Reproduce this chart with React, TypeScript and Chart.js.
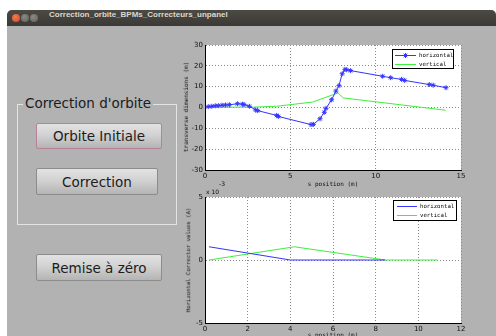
import React, { useEffect, useRef } from "react";
import { Chart, registerables } from "chart.js";

Chart.register(...registerables);

// ---------- texts ----------
const WINDOW_TITLE = "Correction_orbite_BPMs_Correcteurs_unpanel";
const PANEL_TITLE = "Correction d'orbite";
const BUTTON_LABELS = ["Orbite Initiale", "Correction", "Remise à zéro"];
const SERIES_LABELS = ["horizontal", "vertical"];
const X_TITLE = "s position (m)";
const Y_TITLE_ORBIT = "transverse dimensions (m)";
const Y_TITLE_CORR = "Horizontal Corrector values (A)";

// ---------- top plot: orbit ----------
const orbitHS = [0.19, 0.4, 0.6, 0.78, 1.0, 1.2, 1.43, 1.9, 2.19, 2.29, 2.6, 2.97, 3.09, 4.2, 4.3, 6.21, 6.35, 6.74, 6.99, 7.09, 7.42, 7.67, 7.85, 8.04, 8.2, 8.3, 8.53, 10.41, 10.88, 11.52, 11.7, 13.14, 13.37, 14.12];
const orbitHV = [0.4, 0.6, 0.8, 0.9, 1.1, 1.2, 1.3, 1.8, 1.6, 1.4, 0.6, -1.2, -1.5, -3.8, -4.3, -8.2, -8.1, -5.4, -2.3, -0.4, 3.7, 7.9, 10.5, 16.2, 18.3, 18.1, 17.7, 15.0, 14.3, 13.5, 13.0, 11.0, 10.7, 9.5];
const orbitVS = [0.19, 2.9, 4.2, 6.3, 7.8, 8.1, 14.1];
const orbitVV = [0.1, 0.2, 0.6, 2.6, 7.0, 4.6, -1.3];
const orbitXTicks = [0, 5, 10, 15];
const orbitYTicks = [-30, -20, -10, 0, 10, 20, 30];

// ---------- bottom plot: correctors (A) ----------
const corrHS = [0.19, 4.0, 8.45];
const corrHV = [0.00105, 0, 0];
const corrVS = [0.19, 4.19, 8.45, 10.9];
const corrVV = [0, 0.00105, 0, 0];
const corrXTicks = [0, 2, 4, 6, 8, 10, 12];
const corrYTicks = [-0.005, 0, 0.005];

const BLUE = "#3434ff";
const GREEN = "#3ef03e";
const MONO = "'DejaVu Sans Mono', monospace";
const SANS = "'DejaVu Sans', sans-serif";

const chartBg = {
  id: "chartBg",
  beforeDraw(chart: any) {
    const { ctx, chartArea } = chart;
    ctx.save();
    ctx.fillStyle = "#ffffff";
    ctx.fillRect(chartArea.left, chartArea.top, chartArea.right - chartArea.left, chartArea.bottom - chartArea.top);
    ctx.restore();
  },
};

const boxLegend = {
  id: "boxLegend",
  afterDraw(chart: any, _a: any, opts: any) {
    const { ctx, chartArea } = chart;
    const w = opts.width, h = opts.height;
    const x = Math.round(chartArea.right - opts.right - w);
    const y = Math.round(chartArea.top + opts.top);
    ctx.save();
    ctx.fillStyle = "#fff";
    ctx.fillRect(x, y, w, h);
    ctx.strokeStyle = "#000";
    ctx.lineWidth = 1;
    ctx.strokeRect(x + 0.5, y + 0.5, w - 1, h - 1);
    ctx.font = `5.7px ${MONO}`;
    ctx.textBaseline = "middle";
    chart.data.datasets.forEach((ds: any, i: number) => {
      const ry = Math.round(y + opts.rows[i]) + 0.5;
      ctx.strokeStyle = ds.borderColor;
      ctx.beginPath();
      ctx.moveTo(x + opts.lx0, ry);
      ctx.lineTo(x + opts.lx1, ry);
      ctx.stroke();
      if (ds.pointRadius > 0) {
        const cx = x + (opts.lx0 + opts.lx1) / 2;
        const r = ds.pointRadius;
        ctx.beginPath();
        for (let k = 0; k < 4; k++) {
          const a = (k * Math.PI) / 4;
          ctx.moveTo(cx - r * Math.cos(a), ry - r * Math.sin(a));
          ctx.lineTo(cx + r * Math.cos(a), ry + r * Math.sin(a));
        }
        ctx.stroke();
      }
      ctx.fillStyle = "#000";
      ctx.fillText(ds.label, x + opts.tx, ry);
    });
    ctx.restore();
  },
};

function axis(min: number, max: number, ticks: number[], fit: (s: any) => void, fmt: (v: number) => string) {
  return {
    type: "linear",
    min,
    max,
    afterBuildTicks: (s: any) => {
      s.ticks = ticks.map((v) => ({ value: v }));
    },
    afterFit: fit,
    grid: { color: "#8a8a8a", lineWidth: 1, drawTicks: false },
    border: { display: true, color: "#000", width: 1, dash: [1, 2] },
    ticks: {
      autoSkip: false,
      maxRotation: 0,
      padding: 2,
      color: "#111",
      font: { family: SANS, size: 7 },
      callback: (v: any) => fmt(Number(v)),
    },
  };
}

function PlotCanvas(props: {
  left: number; top: number; width: number; height: number;
  datasets: any[]; x: any; y: any; legend: any; padRight: number; padTop: number;
}) {
  const ref = useRef<HTMLCanvasElement | null>(null);
  useEffect(() => {
    if (!ref.current) return;
    const chart = new Chart(ref.current, {
      type: "line",
      data: { datasets: props.datasets },
      options: {
        animation: false,
        responsive: false,
        devicePixelRatio: 1,
        parsing: false as any,
        layout: { padding: { left: 0, top: props.padTop, right: props.padRight, bottom: 0 } },
        plugins: { legend: { display: false }, tooltip: { enabled: false }, boxLegend: props.legend } as any,
        scales: { x: props.x, y: props.y } as any,
      },
      plugins: [chartBg, boxLegend],
    } as any);
    return () => chart.destroy();
  }, []);
  return (
    <canvas
      ref={ref}
      width={props.width}
      height={props.height}
      style={{ position: "absolute", left: props.left, top: props.top, width: props.width, height: props.height }}
    />
  );
}

const pts = (xs: number[], ys: number[]) => xs.map((x, i) => ({ x, y: ys[i] }));

function Button({ label, left, top, width, height, focus }: any) {
  return (
    <div
      style={{
        position: "absolute", left, top, width, height, boxSizing: "border-box",
        border: `1px solid ${focus ? "#b9809a" : "#8c8c8c"}`, borderRadius: 2,
        background: "linear-gradient(#e2e2e2, #d2d2d2 45%, #b4b4b4)",
        display: "flex", alignItems: "center", justifyContent: "center",
        font: `13.5px ${SANS}`, color: "#1c1c1c", whiteSpace: "nowrap",
      }}
    >
      {label}
    </div>
  );
}

function RotText({ text, cx, cy, size }: any) {
  return (
    <div
      style={{
        position: "absolute", left: cx, top: cy, transform: "translate(-50%,-50%) rotate(-90deg)",
        font: `${size}px ${MONO}`, color: "#111", whiteSpace: "nowrap", lineHeight: 1,
      }}
    >
      {text}
    </div>
  );
}

export default function App() {
  const orbitDatasets = [
    { label: SERIES_LABELS[0], data: pts(orbitHS, orbitHV), borderColor: BLUE, borderWidth: 1, pointStyle: "star", pointRadius: 2.5, pointBorderColor: BLUE, pointBorderWidth: 1, pointBackgroundColor: BLUE, tension: 0, fill: false },
    { label: SERIES_LABELS[1], data: pts(orbitVS, orbitVV), borderColor: GREEN, borderWidth: 1, pointRadius: 0, tension: 0, fill: false },
  ];
  const corrDatasets = [
    { label: SERIES_LABELS[0], data: pts(corrHS, corrHV), borderColor: BLUE, borderWidth: 1, pointRadius: 0, tension: 0, fill: false },
    { label: SERIES_LABELS[1], data: pts(corrVS, corrVV), borderColor: GREEN, borderWidth: 1, pointRadius: 0, tension: 0, fill: false },
  ];

  return (
    <div style={{ position: "fixed", left: 0, top: 0, width: 496, height: 336, overflow: "hidden", background: "#fff" }}>
      {/* window */}
      <div style={{ position: "absolute", left: 7, top: 10, width: 489, height: 326, background: "#b2b2b2", borderRadius: "5px 5px 0 0", overflow: "hidden" }}>
        <div style={{ position: "absolute", left: 0, top: 0, width: 489, height: 16, background: "linear-gradient(#4b4a45, #3a3935)" }}>
          <div style={{ position: "absolute", left: 5, top: 4, width: 8, height: 8, borderRadius: 4, background: "radial-gradient(circle at 40% 35%, #f07a50, #d9471a)" }} />
          <div style={{ position: "absolute", left: 14, top: 4, width: 8, height: 8, borderRadius: 4, background: "radial-gradient(circle at 40% 35%, #8a8984, #5f5e59)" }} />
          <div style={{ position: "absolute", left: 23, top: 4, width: 8, height: 8, borderRadius: 4, background: "radial-gradient(circle at 40% 35%, #8a8984, #5f5e59)" }} />
          <div style={{ position: "absolute", left: 42, top: 0, height: 16, lineHeight: "16px", font: `bold 8px 'Liberation Sans', sans-serif`, color: "#dcd8cf", whiteSpace: "nowrap" }}>
            {WINDOW_TITLE}
          </div>
        </div>
      </div>

      {/* group box */}
      <div style={{ position: "absolute", left: 17, top: 104, width: 160, height: 121, boxSizing: "border-box", border: "1px solid #e4e4e4" }} />
      <div style={{ position: "absolute", left: 23, top: 95, padding: "0 2px", background: "#b2b2b2", font: `13.5px ${SANS}`, color: "#1c1c1c", lineHeight: "16px", whiteSpace: "nowrap" }}>
        {PANEL_TITLE}
      </div>
      <Button label={BUTTON_LABELS[0]} left={36} top={123} width={126} height={26} focus />
      <Button label={BUTTON_LABELS[1]} left={36} top={168} width={122} height={27} />
      <Button label={BUTTON_LABELS[2]} left={36} top={254} width={126} height={27} />

      {/* top plot: chart area 205..461 x 45..170 */}
      <PlotCanvas
        left={160} top={35} width={310} height={150}
        padTop={10} padRight={9}
        datasets={orbitDatasets}
        x={axis(0, 15, orbitXTicks, (s: any) => { s.height = 15; }, (v) => String(v))}
        y={axis(-30, 30, orbitYTicks, (s: any) => { s.width = 45; }, (v) => String(v))}
        legend={{ width: 62, height: 20, right: 7, top: 4, rows: [6, 15], lx0: 3, lx1: 24, tx: 27 }}
      />
      <RotText text={Y_TITLE_ORBIT} cx={186} cy={107} size={6} />
      <div style={{ position: "absolute", left: 333, top: 184, transform: "translate(-50%,-50%)", font: `6px ${MONO}`, color: "#111", whiteSpace: "nowrap", lineHeight: 1 }}>
        {X_TITLE}
      </div>

      {/* bottom plot: chart area 205..461 x 197..323 */}
      <div style={{ position: "absolute", left: 206, top: 189, font: `6px ${SANS}`, color: "#111", whiteSpace: "nowrap", lineHeight: 1 }}>x 10</div>
      <div style={{ position: "absolute", left: 219, top: 181, font: `6px ${SANS}`, color: "#111", whiteSpace: "nowrap", lineHeight: 1 }}>-3</div>
      <PlotCanvas
        left={160} top={187} width={310} height={149}
        padTop={10} padRight={9}
        datasets={corrDatasets}
        x={axis(0, 12, corrXTicks, (s: any) => { s.height = 13; }, (v) => String(v))}
        y={axis(-0.005, 0.005, corrYTicks, (s: any) => { s.width = 45; }, (v) => String(Math.round(v * 1000)))}
        legend={{ width: 64, height: 21, right: 4, top: 3, rows: [5.5, 15], lx0: 4, lx1: 24, tx: 27 }}
      />
      <RotText text={Y_TITLE_CORR} cx={189} cy={260} size={5.6} />
      <div style={{ position: "absolute", left: 333, top: 332, transform: "translateX(-50%)", font: `6px ${MONO}`, color: "#111", whiteSpace: "nowrap", lineHeight: 1 }}>
        {X_TITLE}
      </div>
    </div>
  );
}
